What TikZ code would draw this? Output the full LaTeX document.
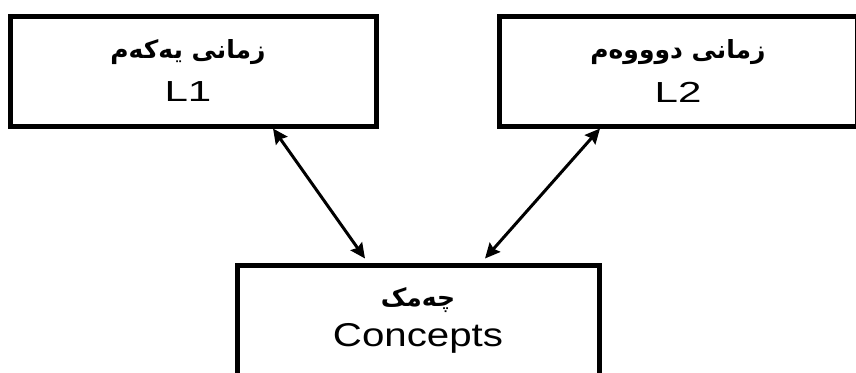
\documentclass[tikz,border=0pt]{standalone}
\usepackage{fontspec}
\setmainfont{Liberation Sans}
\newfontfamily\arabicfont[Script=Arabic]{DejaVu Sans}
\TeXXeTstate=1
\usetikzlibrary{arrows.meta}
\begin{document}
\begin{tikzpicture}[x=1pt,y=-1pt,
  box/.style={draw, line width=5pt, inner sep=0pt},
  link/.style={line width=3pt, {Stealth[length=15pt,width=14pt,inset=2pt]}-{Stealth[length=15pt,width=14pt,inset=2pt]}},
  artext/.style={font=\arabicfont\bfseries\fontsize{25}{28}\selectfont},
  latext/.style={font=\fontsize{29}{32}\selectfont, xscale=1.45}]
\useasboundingbox (0,0) rectangle (856,372);
\clip (0,0) rectangle (856,372);
\node[box, minimum width=366pt, minimum height=110pt] (l1) at (193,71) {};
\node[box, minimum width=358pt, minimum height=110pt] (l2) at (678,71) {};
\node[box, minimum width=362pt, minimum height=130pt] (cc) at (418,330) {};
\node[artext] (l1ar) at (188,52) {\beginR زمانی یەکەم\endR};
\node[latext] (l1la) at (188,92) {L1};
\node[artext] (l2ar) at (678,52) {\beginR زمانی دوووەم\endR};
\node[latext] (l2la) at (678,92) {L2};
\node[artext] (ccar) at (418,300) {\beginR چەمک\endR};
\node[font=\fontsize{33}{36}\selectfont, xscale=1.22] (ccla) at (418,338) {Concepts};
\draw[link] ([xshift=80pt]l1.south) -- ([xshift=-53pt,yshift=4pt]cc.north);
\draw[link] ([xshift=-78pt]l2.south) -- ([xshift=67pt,yshift=4pt]cc.north);
\end{tikzpicture}
\end{document}
